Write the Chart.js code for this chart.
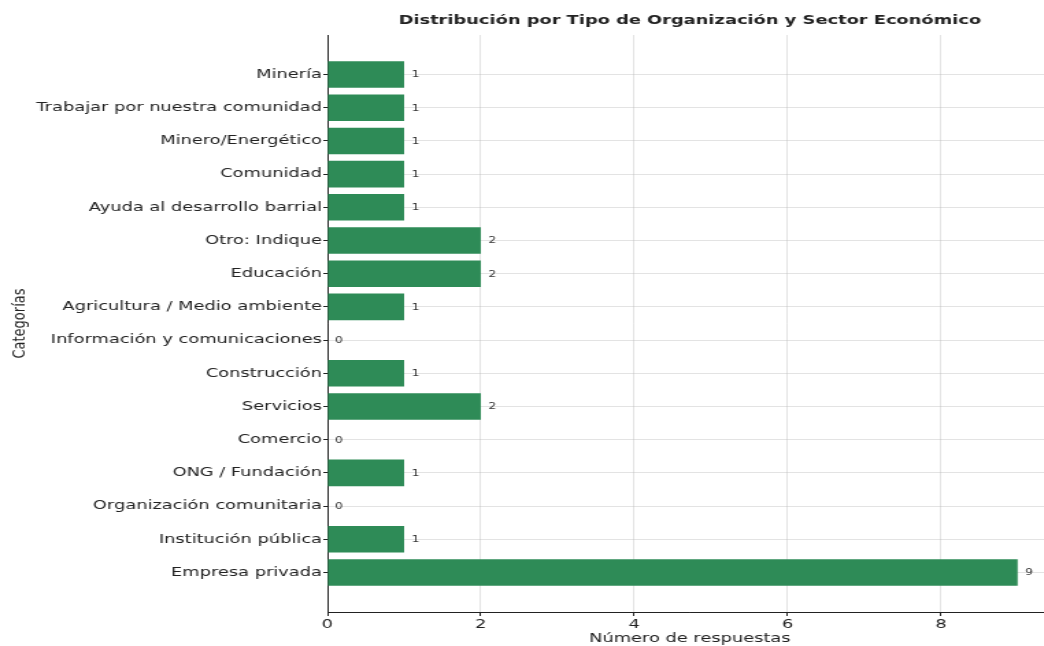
<!DOCTYPE html>
<html>
<head>
<meta charset="utf-8">
<script src="https://cdn.jsdelivr.net/npm/chart.js@4"></script>
<style>
  html, body { margin: 0; padding: 0; background: #ffffff; overflow: hidden; width: 1044px; height: 646px; }
  /* the figure is drawn narrow and shown widened */
  #wrap { width: 768px; height: 646px; transform: scaleX(1.37); transform-origin: 0 0; }
</style>
</head>
<body>
<div id="wrap"><canvas id="chart" width="768" height="646"></canvas></div>
<script>
// Categories, top to bottom
const categories = [
  'Minería',
  'Trabajar por nuestra comunidad',
  'Minero/Energético',
  'Comunidad',
  'Ayuda al desarrollo barrial',
  'Otro: Indique',
  'Educación',
  'Agricultura / Medio ambiente',
  'Información y comunicaciones',
  'Construcción',
  'Servicios',
  'Comercio',
  'ONG / Fundación',
  'Organización comunitaria',
  'Institución pública',
  'Empresa privada'
];
// Number of responses per category
const responses = [1, 1, 1, 1, 1, 2, 2, 1, 0, 1, 2, 0, 1, 0, 1, 9];
// Ticks on the count axis
const countTicks = [0, 2, 4, 6, 8];

const chartTitle = 'Distribución por Tipo de Organización y Sector Económico';
const xTitle = 'Número de respuestas';
const yTitle = 'Categorías';

const FONT = "'DejaVu Sans', sans-serif";
const BAR_COLOR = '#2e8b57';
const GRID_COLOR = 'rgba(185,185,185,0.5)';
const INK = '#222222';

const maxCount = Math.max(...responses);
const points = responses.map((v, i) => ({ x: v, y: i }));

// Value labels at the end of each bar, plus the title centred over the axes
const annotate = {
  id: 'annotate',
  afterDraw(chart) {
    const ctx = chart.ctx;
    const meta = chart.getDatasetMeta(0);
    ctx.save();
    ctx.font = '9px ' + FONT;
    ctx.fillStyle = '#333333';
    ctx.textAlign = 'left';
    ctx.textBaseline = 'middle';
    meta.data.forEach((bar, i) => {
      ctx.fillText(String(responses[i]), bar.x + 5.5, bar.y + 0.5);
    });
    const xs = chart.scales.x;
    const cx = (xs.getPixelForValue(0) + xs.getPixelForValue(xs.max)) / 2;
    ctx.font = 'bold 13px ' + FONT;
    ctx.fillStyle = INK;
    ctx.textAlign = 'center';
    ctx.fillText(chartTitle, cx, 21);
    ctx.restore();
  }
};

const gridStyle = {
  color: GRID_COLOR,
  lineWidth: 0.8,
  borderDash: [2.5, 2],
  drawTicks: true,
  tickLength: 3,
  tickColor: INK,
  tickBorderDash: [],
  tickWidth: 1,
  offset: false
};

new Chart(document.getElementById('chart'), {
  type: 'bar',
  data: {
    datasets: [{
      data: points,
      backgroundColor: BAR_COLOR,
      borderWidth: 0,
      barPercentage: 1.0,
      categoryPercentage: 0.8
    }]
  },
  options: {
    indexAxis: 'y',
    responsive: false,
    animation: false,
    devicePixelRatio: 1,
    layout: { padding: { top: 35, right: 0, bottom: 0, left: 0 } },
    plugins: {
      legend: { display: false },
      tooltip: { enabled: false },
      title: { display: false }
    },
    scales: {
      x: {
        type: 'linear',
        min: 0,
        max: maxCount * 1.05,
        offset: false,
        z: 1,
        afterBuildTicks(scale) { scale.ticks = countTicks.map(v => ({ value: v })); },
        afterFit(scale) { scale.height = 34; },
        ticks: {
          font: { family: FONT, size: 13 },
          color: INK,
          padding: 1
        },
        grid: Object.assign({}, gridStyle, { tickLength: 4 }),
        border: { display: true, color: INK, width: 1 },
        title: {
          display: true,
          text: xTitle,
          font: { family: FONT, size: 13 },
          color: INK,
          padding: { top: 0, bottom: 0 }
        }
      },
      y: {
        type: 'linear',
        reverse: true,
        min: -1.19,
        max: categories.length - 1 + 1.19,
        offset: false,
        z: 1,
        afterBuildTicks(scale) { scale.ticks = categories.map((_, i) => ({ value: i })); },
        afterFit(scale) { scale.width = 239; },
        ticks: {
          font: { family: FONT, size: 13 },
          color: INK,
          padding: 1,
          autoSkip: false,
          callback: (v) => categories[v]
        },
        grid: gridStyle,
        border: { display: true, color: INK, width: 1 },
        title: {
          display: true,
          text: yTitle,
          font: { family: FONT, size: 13 },
          color: INK,
          padding: { top: 7, bottom: 0 }
        }
      }
    }
  },
  plugins: [annotate]
});
</script>
</body>
</html>
